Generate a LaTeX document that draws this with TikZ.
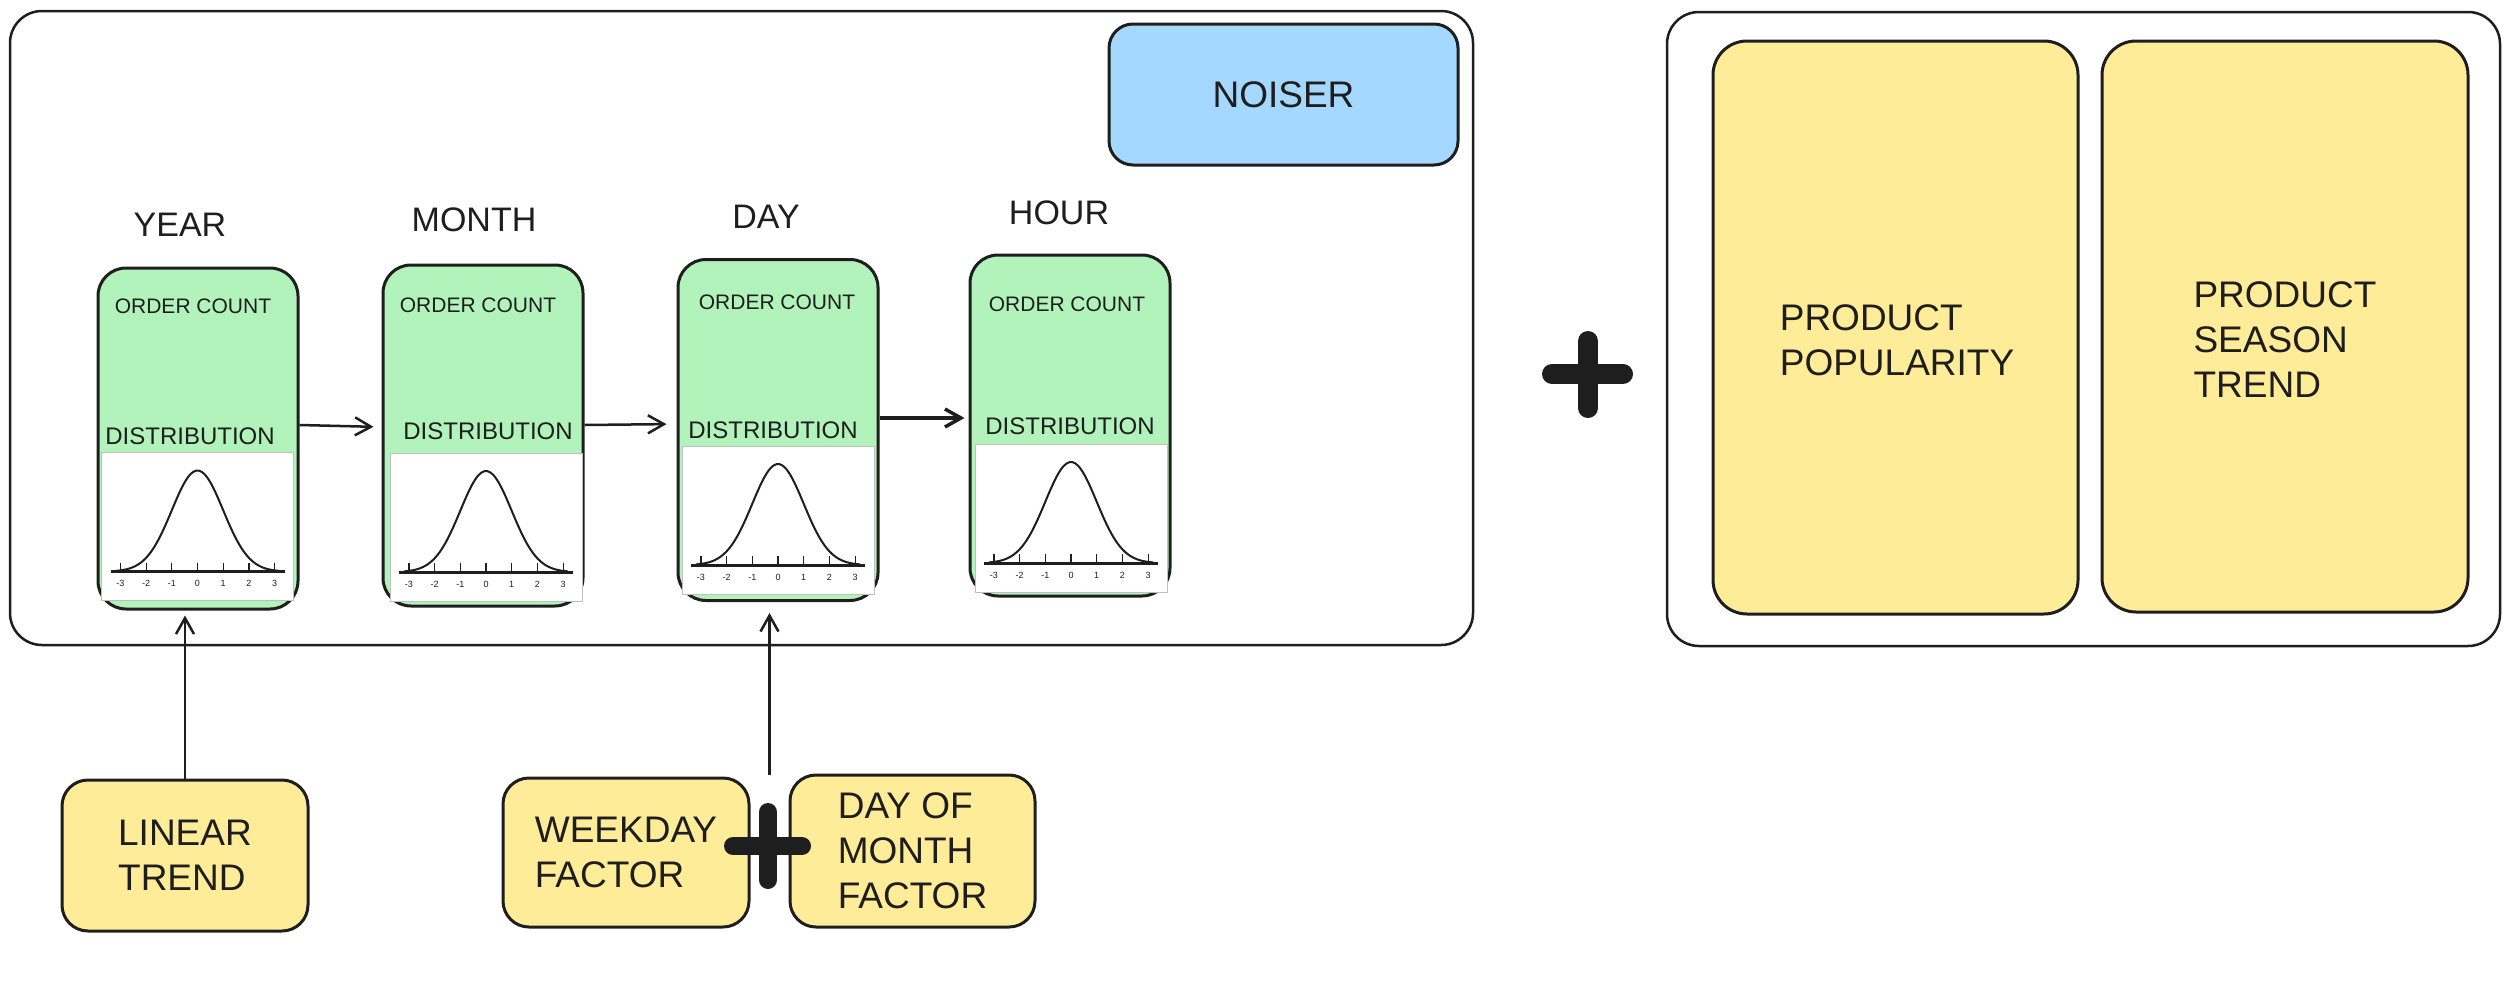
\documentclass[tikz,border=0pt]{standalone}
\usepackage{fontspec}
\setmainfont{Liberation Sans}
\usetikzlibrary{arrows.meta,calc}
\definecolor{ink}{HTML}{1E1E1E}
\definecolor{mint}{HTML}{B2F2BB}
\definecolor{sand}{HTML}{FFEC99}
\definecolor{sky}{HTML}{A5D8FF}

\begin{document}
\begin{tikzpicture}[x=1pt, y=-1pt, line join=round,
			frame_style/.style={draw=ink, line width=2.5pt, rounded corners=32pt},
			stage_style/.style={draw=ink, fill=mint, line width=3pt, rounded corners=28pt, minimum width=200pt, minimum height=341pt},
			note_style/.style={draw=ink, fill=sand, line width=3pt, rounded corners=26pt, align=left, text=ink, font=\fontsize{37}{45}\selectfont},
			text_style/.style={align=left, text=ink, font=\fontsize{37}{45}\selectfont},
			title_style/.style={text=ink, font=\fontsize{34}{40}\selectfont},
			small_style/.style={text=ink, font=\fontsize{21}{24}\selectfont},
			plot_style/.style={draw=gray!50, fill=white, line width=0.8pt, minimum width=192pt, minimum height=148pt, inner sep=0pt},
			arrow_style/.style={draw=ink, line width=2.5pt, -{Straight Barb[length=16pt,width=18pt]}},
			plus_style/.style={draw=ink, line width=20pt, line cap=round},
			bell/.pic={
				\draw[ink, line width=3pt] (-87,45) -- (87,45);
				\foreach \k in {-3,...,3} {
					\draw[ink, line width=1.2pt] (\k*25.7,45) -- (\k*25.7,36);
					\node[text=ink, font=\fontsize{9}{10}\selectfont] at (\k*25.7,57) {\k};
				}
				\draw[ink, line width=2pt, smooth, samples=60, domain=-82:82] plot (\x,{45-101*exp(-0.5*(\x/25.7)^2)});
			}]
			\useasboundingbox (0,0) rectangle (2510,985);
			% frames
			\node[frame_style, minimum width=1463pt, minimum height=634pt] (left_frame) at (741.5,328) {};
			\node[frame_style, minimum width=833pt, minimum height=634pt] (right_frame) at (2083.5,329) {};
			\node[draw=ink, fill=sky, line width=3pt, rounded corners=24pt, minimum width=349pt, minimum height=141pt, text_style] (noiser) at (1283.5,94.5) {NOISER};
			% stages
			\node[stage_style] (year) at (198,438.5) {};
			\node[stage_style] (month) at (483,435.5) {};
			\node[stage_style] (day) at (778,430) {};
			\node[stage_style] (hour) at (1070,425.5) {};
			\node[title_style] (year_title) at (180,225) {YEAR};
			\node[title_style] (month_title) at (474,220) {MONTH};
			\node[title_style] (day_title) at (766,217) {DAY};
			\node[title_style] (hour_title) at (1059,213) {HOUR};
			\node[small_style] (year_count) at (193,306) {ORDER COUNT};
			\node[small_style] (month_count) at (478,305) {ORDER COUNT};
			\node[small_style] (day_count) at (777,302) {ORDER COUNT};
			\node[small_style] (hour_count) at (1067,304) {ORDER COUNT};
			\node[small_style, font=\fontsize{24}{26}\selectfont] (year_dist) at (190,436) {DISTRIBUTION};
			\node[small_style, font=\fontsize{24}{26}\selectfont] (month_dist) at (488,431) {DISTRIBUTION};
			\node[small_style, font=\fontsize{24}{26}\selectfont] (day_dist) at (773,430) {DISTRIBUTION};
			\node[small_style, font=\fontsize{24}{26}\selectfont] (hour_dist) at (1070,426) {DISTRIBUTION};
			\node[plot_style] (year_plot) at (197.5,526.5) {};
			\node[plot_style] (month_plot) at (486,527) {};
			\node[plot_style] (day_plot) at (778,520) {};
			\node[plot_style] (hour_plot) at (1071,518) {};
			\pic at (year_plot) {bell};
			\pic at (month_plot) {bell};
			\pic at (day_plot) {bell};
			\pic at (hour_plot) {bell};
			% factors
			\node[note_style, minimum width=246pt, minimum height=151pt] (linear) at (185,855.5) {LINEAR\\TREND};
			\node[note_style, minimum width=246pt, minimum height=149pt] (weekday) at (626,852.5) {WEEKDAY\\FACTOR};
			\node[note_style, minimum width=245pt, minimum height=152pt] (month_day) at (912.5,851) {DAY OF\\MONTH\\FACTOR};
			\node[note_style, rounded corners=34pt, minimum width=365pt, minimum height=573pt] (popularity) at (1895.5,327.5) {};
			\node[note_style, rounded corners=34pt, minimum width=366pt, minimum height=571pt] (season) at (2285,326.5) {};
			\node[text_style] (popularity_text) at (1897,340) {PRODUCT\\POPULARITY};
			\node[text_style] (season_text) at (2285,339.5) {PRODUCT\\SEASON\\TREND};
			\coordinate (factor_join) at ($(weekday.north east)!0.5!(month_day.north west)$);
			% arrows
			\draw[arrow_style, shorten >=8pt] ([yshift=13.5pt]year.east) -- ([yshift=8.5pt]month.west);
			\draw[arrow_style, shorten >=10pt] ([yshift=10.5pt]month.east) -- ([yshift=6pt]day.west);
			\draw[arrow_style, line width=3.5pt, shorten >=4pt] ([yshift=12pt]day.east) -- ([yshift=7.5pt]hour.west);
			\draw[arrow_style, shorten >=5pt] (linear.north) -- (linear.north |- year.south);
			\draw[arrow_style, shorten >=11pt] (factor_join) -- (factor_join |- day.south);
			% plus signs
			\draw[plus_style] (1552,374) -- (1623,374);
			\draw[plus_style] (1588,341) -- (1588,408);
			\draw[plus_style, line width=18pt] (733,846) -- (802,846);
			\draw[plus_style, line width=18pt] (768,812) -- (768,880);
\end{tikzpicture}
\end{document}
